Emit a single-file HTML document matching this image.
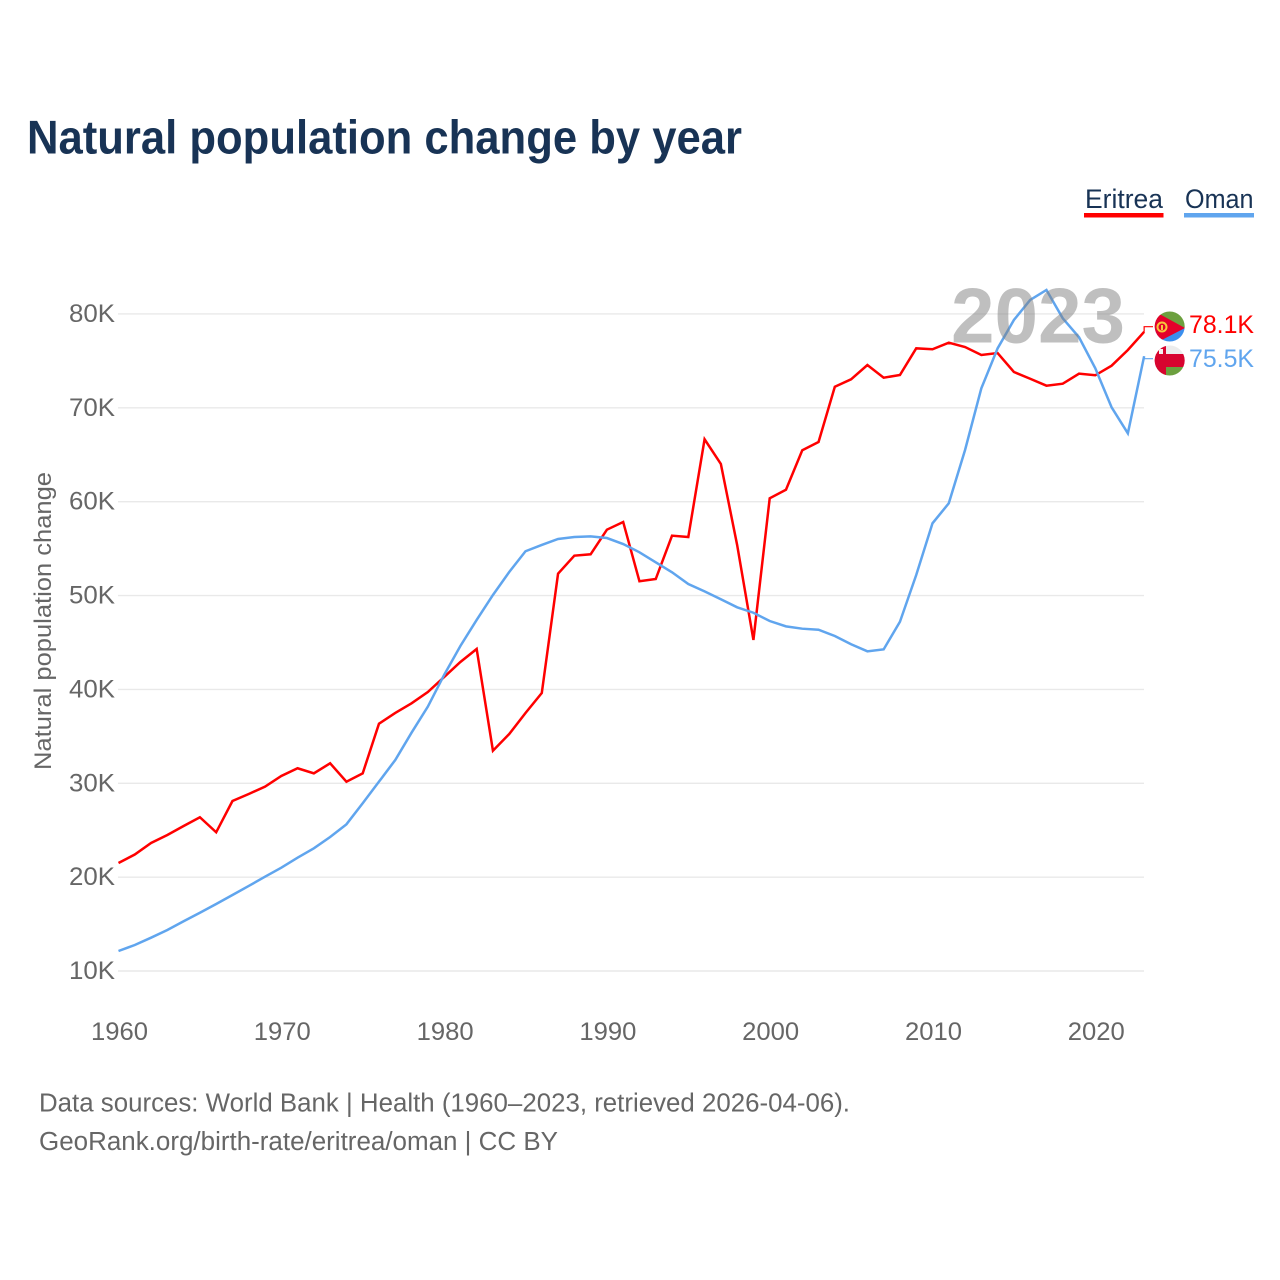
<!DOCTYPE html>
<html lang="en">
<head>
<meta charset="utf-8">
<title>Natural population change by year</title>
<style>
html,body{margin:0;padding:0;background:#fff;}
svg{display:block;font-family:"Liberation Sans",sans-serif;}
</style>
</head>
<body>
<svg id="chart" xmlns="http://www.w3.org/2000/svg" width="1280" height="1280" viewBox="0 0 1280 1280">
  <defs>
    <clipPath id="clip-er"><circle cx="1169.7" cy="326.5" r="15"/></clipPath>
    <clipPath id="clip-om"><circle cx="1169.7" cy="360.5" r="15"/></clipPath>
  </defs>
  <rect x="0" y="0" width="1280" height="1280" fill="#fff"/>
  <text x="27" y="153.5" font-size="47" font-weight="700" fill="#183355" textLength="715" lengthAdjust="spacingAndGlyphs">Natural population change by year</text>

  <g>
    <g>
      <text x="1085" y="208" font-size="26.500" fill="#183355" textLength="78" lengthAdjust="spacingAndGlyphs">Eritrea</text>
      <rect x="1084" y="213" width="79.500" height="4.500" fill="#ff0000"/>
    </g>
    <g>
      <text x="1185" y="208" font-size="26.500" fill="#183355" textLength="68.500" lengthAdjust="spacingAndGlyphs">Oman</text>
      <rect x="1184" y="213" width="70" height="4.500" fill="#60a5ee"/>
    </g>
  </g>

  <g id="grid"></g>
  <g id="y-ticks"></g>
  <g id="x-ticks"></g>
  <text transform="translate(51 770) rotate(-90)" x="0" y="0" font-size="24.500" fill="#666666" textLength="298" lengthAdjust="spacingAndGlyphs">Natural population change</text>

  <g id="series"></g>

  <text x="951" y="342.500" font-size="78" font-weight="700" fill="#808080" fill-opacity="0.5" textLength="174" lengthAdjust="spacingAndGlyphs">2023</text>

  <g clip-path="url(#clip-er)">
    <rect x="1154" y="311" width="32" height="17" fill="#6ca03f"/>
    <rect x="1154" y="328" width="32" height="16" fill="#3a8fee"/>
    <polygon points="1154,311 1185,328 1154,344" fill="#e4002b"/>
    <circle cx="1162" cy="327" r="4.500" fill="none" stroke="#f6c63c" stroke-width="2"/>
    <rect x="1161" y="325" width="2" height="5" fill="#f6c63c"/>
  </g>
  <g clip-path="url(#clip-om)">
    <rect x="1154" y="345" width="32" height="9" fill="#ececec"/>
    <rect x="1154" y="354" width="32" height="13" fill="#d8042f"/>
    <rect x="1154" y="367" width="32" height="10" fill="#6ca03f"/>
    <rect x="1154" y="345" width="12" height="32" fill="#d8042f"/>
    <rect x="1159" y="349" width="4" height="5" fill="#f2f2f2"/>
  </g>

  <text id="end-label-eritrea" x="1189" y="333" font-size="25" fill="#ff0000" textLength="65" lengthAdjust="spacingAndGlyphs"></text>
  <text id="end-label-oman" x="1189" y="367" font-size="25" fill="#60a5ee" textLength="65" lengthAdjust="spacingAndGlyphs"></text>

  <text x="39" y="1111.500" font-size="25.500" fill="#666666" textLength="811" lengthAdjust="spacingAndGlyphs">Data sources: World Bank | Health (1960–2023, retrieved 2026-04-06).</text>
  <text x="39" y="1150" font-size="25.500" fill="#666666" textLength="519" lengthAdjust="spacingAndGlyphs">GeoRank.org/birth-rate/eritrea/oman | CC BY</text>
</svg>
<script>
const startYear = 1960;
const xTickYears = [1960, 1970, 1980, 1990, 2000, 2010, 2020];
const yTickValues = [10, 20, 30, 40, 50, 60, 70, 80];
const yTickLabels = ['10K', '20K', '30K', '40K', '50K', '60K', '70K', '80K'];
const eritreaValues = [
  21.51, 22.41, 23.64, 24.49, 25.45, 26.38, 24.78, 28.11, 28.86, 29.64,
  30.78, 31.60, 31.06, 32.13, 30.17, 31.06, 36.35, 37.49, 38.52, 39.72,
  41.32, 42.92, 44.31, 33.47, 35.25, 37.49, 39.62, 52.33, 54.25, 54.40,
  57.02, 57.84, 51.52, 51.76, 56.38, 56.24, 66.65, 64.02, 55.39, 45.27,
  60.36, 61.28, 65.48, 66.36, 72.25, 73.04, 74.56, 73.21, 73.50, 76.34,
  76.24, 76.94, 76.48, 75.63, 75.84, 73.82, 73.10, 72.36, 72.57, 73.64,
  73.47, 74.49, 76.16, 78.10
];
const omanValues = [
  12.13, 12.77, 13.55, 14.37, 15.30, 16.21, 17.14, 18.10, 19.06, 20.05,
  21.01, 22.07, 23.07, 24.28, 25.63, 27.87, 30.17, 32.48, 35.39, 38.16,
  41.54, 44.63, 47.40, 50.06, 52.51, 54.72, 55.39, 56.03, 56.24, 56.31,
  56.13, 55.49, 54.61, 53.54, 52.48, 51.23, 50.45, 49.60, 48.75, 48.17,
  47.29, 46.72, 46.47, 46.36, 45.69, 44.81, 44.06, 44.27, 47.21, 52.19,
  57.70, 59.83, 65.51, 72.08, 76.34, 79.36, 81.49, 82.56, 79.54, 77.52,
  74.21, 70.06, 67.29, 75.50
];

const SVG_NS = 'http://www.w3.org/2000/svg';
const xScale = function (year) { return 118.5 + (year - 1960) * 16.28; };
const yScale = function (value) { return 971 - (value - 10) * 9.386; };

const gridGroup = document.getElementById('grid');
const yTickGroup = document.getElementById('y-ticks');
const xTickGroup = document.getElementById('x-ticks');
const seriesGroup = document.getElementById('series');

yTickValues.forEach(function (value, i) {
  const line = document.createElementNS(SVG_NS, 'line');
  
  
  line.setAttribute('x1', 118);
  line.setAttribute('x2', 1144);
  line.setAttribute('y1', yScale(value));
  line.setAttribute('y2', yScale(value));
  line.setAttribute('stroke', '#e9e9e9');
  line.setAttribute('stroke-width', '1.4');
  gridGroup.appendChild(line);

  const label = document.createElementNS(SVG_NS, 'text');
  
  
  label.setAttribute('x', 69);
  label.setAttribute('y', yScale(value) + 8);
  label.setAttribute('font-size', '25');
  label.setAttribute('fill', '#666666');
  label.setAttribute('textLength', '46');
  label.setAttribute('lengthAdjust', 'spacingAndGlyphs');
  label.textContent = yTickLabels[i];
  yTickGroup.appendChild(label);
});

xTickYears.forEach(function (year) {
  const label = document.createElementNS(SVG_NS, 'text');
  
  
  label.setAttribute('x', xScale(year) - 27.5);
  label.setAttribute('y', 1040);
  label.setAttribute('font-size', '25');
  label.setAttribute('fill', '#666666');
  label.setAttribute('textLength', '57');
  label.setAttribute('lengthAdjust', 'spacingAndGlyphs');
  label.textContent = String(year);
  xTickGroup.appendChild(label);
});

function pointsFor(values) {
  return values.map(function (value, i) {
    return xScale(startYear + i).toFixed(2) + ',' + yScale(value).toFixed(2);
  }).join(' ');
}

const eritreaLine = document.createElementNS(SVG_NS, 'polyline');


eritreaLine.setAttribute('points', pointsFor(eritreaValues));
eritreaLine.setAttribute('fill', 'none');
eritreaLine.setAttribute('stroke', '#ff0000');
eritreaLine.setAttribute('stroke-width', '2.5');
seriesGroup.appendChild(eritreaLine);

const omanLine = document.createElementNS(SVG_NS, 'polyline');


omanLine.setAttribute('points', pointsFor(omanValues));
omanLine.setAttribute('fill', 'none');
omanLine.setAttribute('stroke', '#60a5ee');
omanLine.setAttribute('stroke-width', '2.5');
seriesGroup.appendChild(omanLine);

const lastYear = startYear + eritreaValues.length - 1;
const lastEritrea = eritreaValues[eritreaValues.length - 1];
const lastOman = omanValues[omanValues.length - 1];

const eritreaConnector = document.createElementNS(SVG_NS, 'polyline');


eritreaConnector.setAttribute('points', xScale(lastYear) + ',' + yScale(lastEritrea) + ' ' + xScale(lastYear) + ',326.7 1153,326.7');
eritreaConnector.setAttribute('fill', 'none');
eritreaConnector.setAttribute('stroke', '#ff0000');
eritreaConnector.setAttribute('stroke-width', '1.2');
seriesGroup.appendChild(eritreaConnector);

const omanConnector = document.createElementNS(SVG_NS, 'polyline');


omanConnector.setAttribute('points', xScale(lastYear) + ',' + yScale(lastOman) + ' ' + xScale(lastYear) + ',358.7 1153,358.7');
omanConnector.setAttribute('fill', 'none');
omanConnector.setAttribute('stroke', '#60a5ee');
omanConnector.setAttribute('stroke-width', '1.2');
seriesGroup.appendChild(omanConnector);

document.getElementById('end-label-eritrea').textContent = lastEritrea.toFixed(1) + 'K';
document.getElementById('end-label-oman').textContent = lastOman.toFixed(1) + 'K';
</script>
</body>
</html>
